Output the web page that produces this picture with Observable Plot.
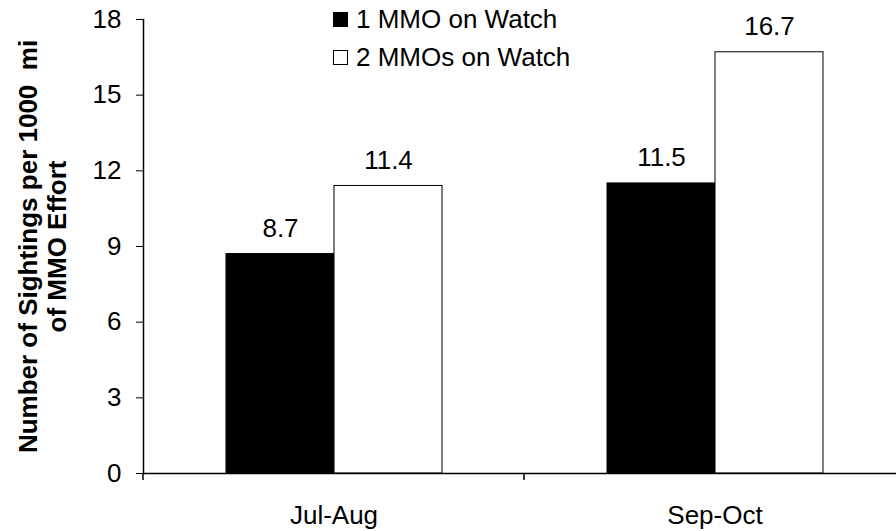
<!DOCTYPE html>
<html><head><meta charset="utf-8">
<script src="https://cdn.jsdelivr.net/npm/d3@7"></script>
<script src="https://cdn.jsdelivr.net/npm/@observablehq/plot@0.6"></script>
<style>
html,body{margin:0;padding:0;background:#fff;}
#wrap{position:relative;width:896px;height:531px;overflow:hidden;font-family:"Liberation Sans",Arial,sans-serif;}
#wrap svg{max-width:none !important;}
#legend{position:absolute;left:333px;top:1px;font-size:26px;color:#000;}
.row{display:flex;align-items:center;height:37.5px;line-height:37.5px;white-space:nowrap;}
.sw{width:13px;height:13px;border:1px solid #000;margin-right:8px;box-sizing:content-box;}
</style></head><body><div id="wrap"></div>
<script>
const categories = ["Jul-Aug", "Sep-Oct"];
const series = ["1 MMO on Watch", "2 MMOs on Watch"];
const oneMMO = [8.7, 11.5];
const twoMMOs = [11.4, 16.7];
const yTicks = [0, 3, 6, 9, 12, 15, 18];
const seriesFill = ["#000000", "#ffffff"];
const yLabel = "Number of Sightings per 1000  mi\nof MMO Effort";

const data = categories.flatMap((c, i) => [
  {cat: c, series: series[0], value: oneMMO[i]},
  {cat: c, series: series[1], value: twoMMOs[i]}
]);

const font = '"Liberation Sans", Arial, sans-serif';
const plot = Plot.plot({
  width: 905, height: 531,
  marginTop: 19, marginBottom: 58, marginLeft: 143, marginRight: 0,
  style: {fontFamily: font, fontSize: "26px", color: "#000", background: "#fff", overflow: "visible", maxWidth: "none"},
  fx: {domain: categories, padding: 0, label: null, tickSize: 0, tickPadding: 32},
  x: {domain: series, paddingInner: 0, paddingOuter: 0.75, axis: null},
  y: {domain: [0, 18], ticks: yTicks, tickSize: 7, tickPadding: 15, label: null},
  color: {domain: series, range: seriesFill},
  marks: [
    Plot.barY(data, {fx: "cat", x: "series", y: "value", fill: "series", stroke: "#000", strokeWidth: 1}),
    Plot.text(data, {fx: "cat", x: "series", y: "value", text: d => d.value.toFixed(1), dy: -17, lineAnchor: "bottom", fontSize: 26, fill: "#000"}),
    Plot.ruleY([0], {stroke: "#000", strokeWidth: 1.5}),
    Plot.frame({anchor: "left", facetAnchor: "left", stroke: "#000", strokeWidth: 1.5}),
    Plot.text([yLabel], {frameAnchor: "left", facetAnchor: "left", rotate: -90, lineAnchor: "top", textAnchor: "middle",
      lineHeight: 1.14, fontWeight: "bold", fontSize: 26, fill: "#000", dx: -128})
  ]
});

const svg = d3.select(plot);
// category boundary ticks on the x axis, from Plot's own scales
const fx = plot.scale("fx"), y = plot.scale("y");
const y0 = y.apply(0);
const bounds = categories.map(c => fx.apply(c)).concat([fx.apply(categories[categories.length - 1]) + fx.bandwidth]);
const g = svg.append("g").attr("stroke", "#000").attr("stroke-width", 1.5);
bounds.forEach(bx => g.append("line").attr("x1", bx).attr("x2", bx).attr("y1", y0).attr("y2", y0 + 7));

const wrap = document.getElementById("wrap");
wrap.appendChild(plot);
const legend = d3.select(wrap).append("div").attr("id", "legend");
series.forEach((s, i) => {
  const row = legend.append("div").attr("class", "row");
  row.append("div").attr("class", "sw").style("background", seriesFill[i]);
  row.append("span").text(s);
});
</script>
</body></html>
